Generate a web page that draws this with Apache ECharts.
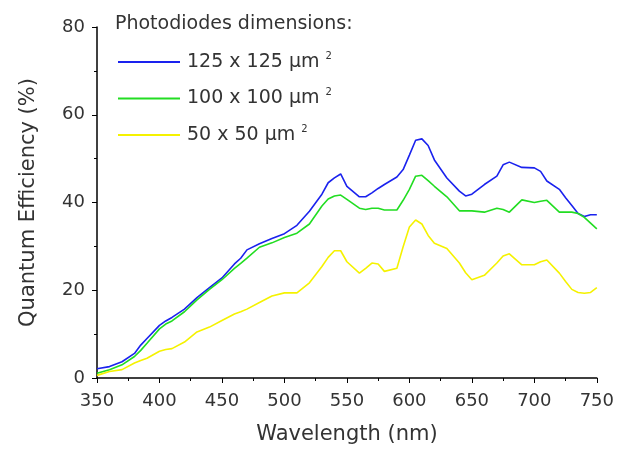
<!DOCTYPE html>
<html>
<head>
<meta charset="utf-8">
<script src="https://cdn.jsdelivr.net/npm/echarts@6/dist/echarts.min.js"></script>
<style>
  html, body { margin: 0; padding: 0; background: #fff; }
</style>
</head>
<body>
<div id="chart" style="width:617px;height:450px;"></div>
<script>
// wavelength (nm), shared by the three curves
const wavelengths = [350, 360, 370, 380, 385, 390, 400, 405, 410, 420, 430, 440, 450, 460, 465, 470, 480, 490, 500, 510,
  520, 530, 535, 540, 545, 550, 560, 565, 570, 575, 580, 590, 595, 600, 605, 610, 615, 620, 630, 640,
  645, 650, 660, 670, 675, 680, 690, 700, 705, 710, 720, 725, 730, 735, 740, 745, 750]

const qe125 = [2.1, 2.6, 3.7, 5.6, 7.5, 9, 12, 13, 13.8, 15.7, 18.3, 20.6, 22.8, 26, 27.3, 29.2, 30.6, 31.8, 32.9, 34.8,
  38, 41.9, 44.5, 45.6, 46.5, 43.7, 41.3, 41.3, 42.2, 43.2, 44.1, 45.8, 47.5, 50.8, 54.2, 54.5, 53, 49.7, 45.6, 42.6,
  41.5, 41.9, 44.1, 46, 48.6, 49.2, 48, 47.9, 47.1, 44.9, 43, 41.1, 39.3, 37.5, 36.8, 37.2, 37.2]

const qe100 = [1.1, 1.9, 3, 4.9, 6.3, 7.9, 11.2, 12.3, 13, 15.1, 17.8, 20.2, 22.4, 25, 26.1, 27.3, 29.8, 30.8, 32, 33,
  35.1, 39.2, 40.8, 41.5, 41.7, 40.7, 38.7, 38.4, 38.7, 38.7, 38.3, 38.3, 40.5, 43, 46, 46.2, 45, 43.7, 41.3, 38.1,
  38.1, 38.1, 37.8, 38.7, 38.4, 37.8, 40.6, 40, 40.3, 40.5, 37.8, 37.8, 37.8, 37.5, 36.6, 35.3, 34]

const qe50 = [0.6, 1.5, 1.9, 3.4, 4, 4.5, 6.1, 6.5, 6.7, 8.2, 10.5, 11.6, 13.1, 14.6, 15.1, 15.7, 17.2, 18.7, 19.4, 19.4,
  21.7, 25.4, 27.5, 29, 29, 26.5, 23.9, 25, 26.2, 26, 24.3, 25, 29.9, 34.4, 36, 35.1, 32.5, 30.7, 29.5, 26.2,
  24, 22.4, 23.4, 26.2, 27.8, 28.3, 25.8, 25.8, 26.5, 26.9, 23.9, 22, 20.2, 19.5, 19.3, 19.5, 20.6]

const seriesNames = ['125 x 125 µm', '100 x 100 µm', '50 x 50 µm']

const font = 'DejaVu Sans, sans-serif'
const textColor = '#333'

function pairs (vals) {
  return wavelengths.map((w, i) => [w, vals[i]])
}

function lineSeries (name, vals, color) {
  return {
    name: name,
    type: 'line',
    symbol: 'none',
    lineStyle: { color: color, width: 1.6 },
    itemStyle: { color: color },
    data: pairs(vals)
  }
}

const chart = echarts.init(document.getElementById('chart'))
chart.setOption({
  animation: false,
  title: {
    text: 'Photodiodes dimensions:',
    left: 110,
    top: 10,
    textStyle: { fontFamily: font, fontSize: 19, fontWeight: 'normal', color: textColor }
  },
  legend: {
    orient: 'vertical',
    left: 113,
    top: 46,
    icon: 'rect',
    itemWidth: 62,
    itemHeight: 2,
    itemGap: 16,
    data: seriesNames,
    formatter: name => name + ' {sup|2}',
    textStyle: {
      fontFamily: font,
      fontSize: 19,
      color: textColor,
      padding: [0, 0, 0, 2],
      rich: {
        sup: { fontSize: 10, verticalAlign: 'top', padding: [0, 0, 12, 0], fontFamily: font, color: textColor }
      }
    }
  },
  grid: { left: 97, right: 20, top: 27, bottom: 66 },
  xAxis: {
    type: 'value',
    min: 350,
    max: 750,
    interval: 50,
    name: 'Wavelength (nm)',
    nameLocation: 'middle',
    nameGap: 46,
    nameTextStyle: { fontFamily: font, fontSize: 21, color: textColor },
    axisLine: { lineStyle: { color: '#000', width: 1.5 } },
    axisTick: { inside: false, length: 5, lineStyle: { color: '#000' } },
    minorTick: { show: true, splitNumber: 2, length: 3, lineStyle: { color: '#000' } },
    axisLabel: { fontFamily: font, fontSize: 18, color: textColor, margin: 14 },
    splitLine: { show: false }
  },
  yAxis: {
    type: 'value',
    min: 0,
    max: 80,
    interval: 20,
    name: 'Quantum Efficiency (%)',
    nameLocation: 'middle',
    nameGap: 58,
    nameTextStyle: { fontFamily: font, fontSize: 21, color: textColor },
    axisLine: { show: true, lineStyle: { color: '#000', width: 1.5 } },
    axisTick: { show: true, inside: false, length: 5, lineStyle: { color: '#000' } },
    minorTick: { show: true, splitNumber: 2, length: 3, lineStyle: { color: '#000' } },
    axisLabel: { fontFamily: font, fontSize: 18, color: textColor, margin: 12 },
    splitLine: { show: false }
  },
  series: [
    lineSeries(seriesNames[0], qe125, '#1a22ee'),
    lineSeries(seriesNames[1], qe100, '#22dd22'),
    lineSeries(seriesNames[2], qe50, '#f5f200')
  ]
})
</script>
</body>
</html>
